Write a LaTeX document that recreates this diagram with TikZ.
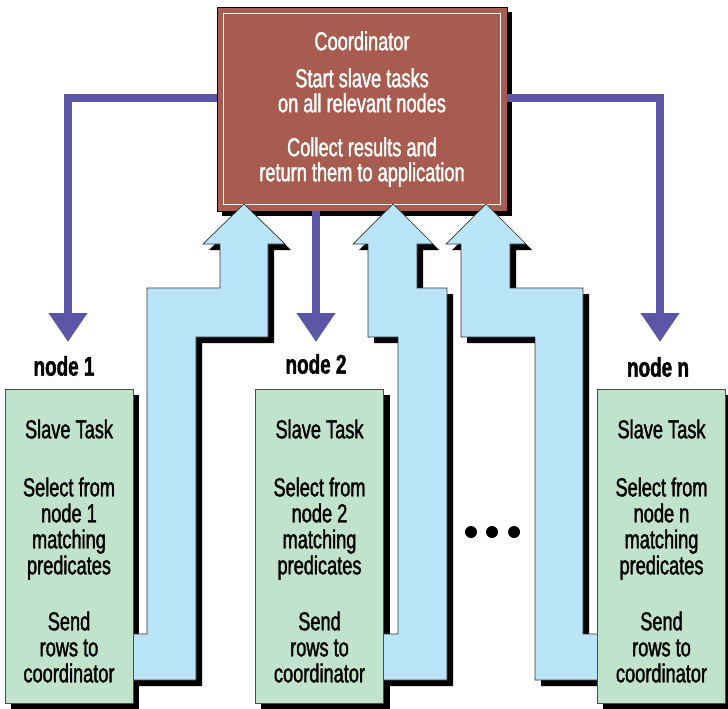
\documentclass[tikz,border=0pt]{standalone}
\usepackage{fontspec}
\setmainfont{Liberation Sans}[FakeStretch=0.70, FakeBold=1.5]
\usetikzlibrary{arrows.meta,shadows}
\pgfdeclarelayer{bg}
\pgfdeclarelayer{mid}
\pgfsetlayers{bg,mid,main}
\definecolor{coordred}{HTML}{A85C50}
\definecolor{taskgreen}{HTML}{C2E3CB}
\definecolor{flowblue}{HTML}{BAE5F8}
\definecolor{ctrlpurple}{HTML}{5C56A6}
\begin{document}
\begin{tikzpicture}[x=1pt,y=-1pt,
  coordbox/.style={draw=black, line width=0.7pt, fill=coordred, text=white,
    font=\fontsize{26}{25}\selectfont, align=center,
    minimum width=290pt, minimum height=204pt, inner sep=0pt,
    drop shadow={shadow xshift=5pt, shadow yshift=-5pt, fill=black, opacity=1}},
  taskbox/.style={draw=black!70, line width=0.6pt, fill=taskgreen,
    minimum width=128pt, minimum height=314pt, inner sep=0pt},
  tasktext/.style={font=\fontsize{26}{26}\selectfont, align=center, inner sep=0pt},
  nodelabel/.style={font=\bfseries\fontsize{27}{27}\selectfont, inner sep=0pt},
  sendflow/.style={draw=black!80, line width=0.7pt, fill=flowblue,
    preaction={fill=black, transform canvas={shift={(6pt,-6pt)}}}},
  ctrl/.style={draw=ctrlpurple, line width=8pt, -{Triangle[width=37pt,length=29pt]}},
  dotmark/.style={circle, fill=black, minimum size=12pt, inner sep=0pt}
]
\useasboundingbox (0,0) rectangle (728,709);

% slave task boxes
\node[taskbox] (s1) at (69,546) {};
\node[taskbox] (s2) at (319.5,546) {};
\node[taskbox] (sn) at (661.5,546) {};
\node[tasktext] (s1t) at ([yshift=-5pt]s1.center) {Slave Task\\[32pt]Select from\\node 1\\matching\\predicates\\[30pt]Send\\rows to\\coordinator};
\node[tasktext] (s2t) at ([yshift=-5pt]s2.center) {Slave Task\\[32pt]Select from\\node 2\\matching\\predicates\\[30pt]Send\\rows to\\coordinator};
\node[tasktext] (snt) at ([yshift=-5pt]sn.center) {Slave Task\\[32pt]Select from\\node n\\matching\\predicates\\[30pt]Send\\rows to\\coordinator};

% node labels and arrow ends
\node[nodelabel] (l1) at (64,366) {node 1};
\node[nodelabel] (l2) at (316,364) {node 2};
\node[nodelabel] (ln) at (658,367) {node n};
\coordinate (t1) at (68,342);
\coordinate (t2) at (316,342);
\coordinate (tn) at (660,342);

% ellipsis between node 2 and node n
\node[dotmark] (d1) at (471,532) {};
\node[dotmark] (d2) at (492,532) {};
\node[dotmark] (d3) at (514,532) {};

\begin{pgfonlayer}{bg}
  \node[coordbox] (coord) at (362,109) {Coordinator\\[12pt]Start slave tasks\\on all relevant nodes\\[19pt]Collect results and\\return them to application};
  \draw[white, line width=0.7pt] ([shift={(7pt,-7pt)}]coord.north west) rectangle ([shift={(-7pt,7pt)}]coord.south east);
  % control flow from the coordinator to each node
  \draw[ctrl] ([yshift=11pt]coord.west) -| (t1);
  \draw[ctrl] ([yshift=11pt]coord.east) -| (tn);
  \draw[ctrl] (coord.south -| t2) -- (t2);
  % shadows of the task boxes
  \foreach \b in {s1,s2,sn}
    \fill[black] ([shift={(6pt,-6pt)}]\b.south west) rectangle ([shift={(6pt,-6pt)}]\b.north east);
\end{pgfonlayer}

\begin{pgfonlayer}{mid}
  % result rows flowing back to the coordinator
  \path[sendflow] (128,680) -- (196,680) -- (196,337) -- (268,337) -- (268,244) -- (285,244)
    -- (244,204) -- (203,244) -- (220,244) -- (220,288) -- (147,288) -- (147,634) -- (128,634) -- cycle;
  \path[sendflow] (378,680) -- (447,680) -- (447,288) -- (417,288) -- (417,244) -- (433,244)
    -- (393,204) -- (353,244) -- (368,244) -- (368,337) -- (398,337) -- (398,634) -- (378,634) -- cycle;
  \path[sendflow] (603,680) -- (535,680) -- (535,337) -- (461,337) -- (461,244) -- (446,244)
    -- (486,204) -- (526,244) -- (510,244) -- (510,288) -- (583,288) -- (583,634) -- (603,634) -- cycle;
\end{pgfonlayer}
\end{tikzpicture}
\end{document}
